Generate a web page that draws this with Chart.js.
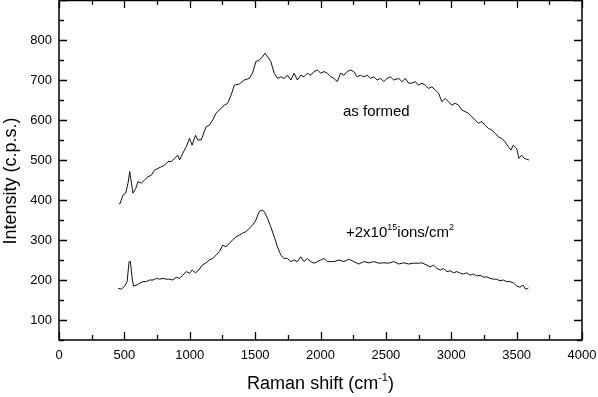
<!DOCTYPE html>
<html>
<head>
<meta charset="utf-8">
<title>Raman spectra</title>
<script src="https://cdn.jsdelivr.net/npm/chart.js@4.4.1/dist/chart.umd.min.js"></script>
<style>
  body { margin: 0; background: #fff; }
  #chart { display: block; }
</style>
</head>
<body>
<canvas id="chart" width="598" height="397"></canvas>
<script>
// as formed
const asFormedShift = [457, 465, 490, 510, 528, 541, 554, 566, 587, 604, 630, 655, 680, 706, 731, 757, 782, 808, 833, 859,
    884, 909, 922, 947, 973, 998, 1018, 1044, 1062, 1087, 1125, 1150, 1176, 1201, 1239, 1265, 1290, 1316, 1341, 1379,
    1417, 1455, 1480, 1506, 1531, 1557, 1575, 1595, 1620, 1646, 1671, 1697, 1722, 1747, 1773, 1798, 1823, 1849, 1874, 1899,
    1925, 1950, 1976, 2002, 2027, 2052, 2078, 2103, 2128, 2154, 2179, 2204, 2230, 2255, 2280, 2306, 2331, 2357, 2383, 2408,
    2433, 2459, 2484, 2509, 2535, 2560, 2598, 2623, 2649, 2674, 2699, 2725, 2750, 2776, 2801, 2827, 2852, 2878, 2903, 2928,
    2954, 2979, 3004, 3030, 3055, 3081, 3106, 3131, 3157, 3183, 3208, 3233, 3259, 3284, 3310, 3335, 3360, 3385, 3411, 3436,
    3457, 3474, 3500, 3518, 3538, 3558, 3576, 3595];
const asFormedIntensity = [392, 390, 412, 417, 442, 471, 442, 417, 429, 446, 442, 450, 458, 462, 475, 479, 483, 487, 496, 496,
    504, 512, 500, 517, 533, 554, 537, 562, 550, 550, 583, 587, 600, 617, 629, 637, 642, 662, 687, 690,
    700, 704, 717, 746, 750, 758, 767, 758, 746, 717, 704, 708, 704, 712, 700, 717, 700, 712, 708, 717,
    712, 721, 725, 717, 721, 717, 708, 704, 696, 717, 712, 721, 725, 721, 708, 712, 708, 712, 704, 708,
    700, 704, 696, 704, 708, 700, 704, 696, 704, 692, 692, 696, 687, 692, 687, 679, 683, 675, 667, 646,
    654, 646, 637, 642, 637, 625, 621, 617, 608, 600, 592, 596, 587, 579, 575, 567, 558, 554, 546, 533,
    525, 537, 529, 504, 512, 504, 502, 500];

// +2x10^15 ions/cm^2
const implantedShift = [452, 477, 503, 521, 536, 546, 561, 571, 592, 617, 643, 668, 693, 719, 744, 770, 795, 821, 846, 871,
    897, 922, 947, 973, 998, 1018, 1044, 1069, 1095, 1125, 1150, 1176, 1201, 1227, 1252, 1278, 1303, 1328, 1354, 1379,
    1404, 1430, 1455, 1480, 1506, 1531, 1552, 1570, 1595, 1620, 1646, 1671, 1697, 1722, 1747, 1773, 1798, 1823, 1849, 1874,
    1899, 1925, 1950, 1976, 2002, 2027, 2052, 2078, 2103, 2141, 2179, 2217, 2255, 2293, 2331, 2370, 2408, 2446, 2484, 2522,
    2560, 2598, 2636, 2674, 2712, 2750, 2776, 2814, 2839, 2865, 2890, 2916, 2941, 2966, 2992, 3017, 3043, 3068, 3093, 3119,
    3144, 3170, 3195, 3221, 3246, 3271, 3297, 3322, 3347, 3373, 3398, 3423, 3449, 3474, 3500, 3525, 3550, 3568, 3590];
const implantedIntensity = [179, 177, 185, 196, 246, 246, 200, 185, 187, 192, 196, 196, 200, 200, 204, 202, 204, 202, 202, 200,
    207, 204, 212, 221, 217, 225, 218, 225, 237, 243, 250, 254, 262, 271, 287, 283, 292, 300, 308, 312,
    317, 321, 329, 337, 350, 371, 375, 371, 354, 333, 308, 283, 262, 254, 254, 246, 250, 246, 258, 246,
    254, 246, 242, 246, 250, 254, 246, 246, 246, 250, 246, 252, 246, 240, 246, 243, 246, 242, 243, 242,
    246, 240, 243, 240, 242, 242, 243, 237, 233, 237, 229, 225, 229, 221, 223, 218, 221, 217, 215, 218,
    212, 215, 210, 212, 207, 208, 204, 202, 202, 198, 200, 196, 196, 193, 185, 182, 187, 177, 180];

const xTickValues = [0, 500, 1000, 1500, 2000, 2500, 3000, 3500, 4000];
const yTickValues = [100, 200, 300, 400, 500, 600, 700, 800];

const FONT = '"Liberation Sans", Arial, Helvetica, sans-serif';

function toPoints(xs, ys) {
    return xs.map((x, i) => ({ x: x, y: ys[i] }));
}

// draw text with superscript parts: parts = [[text, isSup], ...]
function drawRich(ctx, parts, x, y, size, align) {
    const supSize = Math.round(size * 0.62);
    let total = 0;
    parts.forEach(p => {
        ctx.font = (p[1] ? supSize : size) + 'px ' + FONT;
        total += ctx.measureText(p[0]).width;
    });
    let cx = align === 'center' ? x - total / 2 : x;
    ctx.textAlign = 'left';
    ctx.textBaseline = 'alphabetic';
    parts.forEach(p => {
        ctx.font = (p[1] ? supSize : size) + 'px ' + FONT;
        ctx.fillText(p[0], cx, p[1] ? y - size * 0.45 : y);
        cx += ctx.measureText(p[0]).width;
    });
}

const framePlugin = {
    id: 'frame',
    beforeDraw(chart) {
        const ctx = chart.ctx;
        ctx.save();
        ctx.fillStyle = '#fff';
        ctx.fillRect(0, 0, chart.width, chart.height);
        ctx.restore();
    },
    afterDraw(chart) {
        const ctx = chart.ctx;
        const a = chart.chartArea;
        const xs = chart.scales.x;
        const ys = chart.scales.y;
        ctx.save();
        ctx.strokeStyle = '#000';
        ctx.lineWidth = 1.5;
        ctx.strokeRect(a.left, a.top + 0.5, a.right - a.left, a.bottom - a.top - 0.5);

        // inward ticks on all four sides
        ctx.lineWidth = 1.3;
        ctx.beginPath();
        for (let v = xs.min; v <= xs.max; v += 250) {
            const px = Math.round(xs.getPixelForValue(v)) + 0.5;
            const len = v % 500 === 0 ? 8 : 5;
            ctx.moveTo(px, a.bottom); ctx.lineTo(px, a.bottom - len);
            ctx.moveTo(px, a.top); ctx.lineTo(px, a.top + len);
        }
        for (let v = ys.min; v <= ys.max; v += 50) {
            const py = Math.round(ys.getPixelForValue(v)) + 0.5;
            const len = v % 100 === 0 ? 8 : 5;
            ctx.moveTo(a.left, py); ctx.lineTo(a.left + len, py);
            ctx.moveTo(a.right, py); ctx.lineTo(a.right - len, py);
        }
        ctx.stroke();

        ctx.fillStyle = '#000';
        // axis titles
        drawRich(ctx, [['Raman shift (cm', false], ['-1', true], [')', false]], (a.left + a.right) / 2, 389, 18, 'center');
        ctx.save();
        ctx.translate(16, 181);
        ctx.rotate(-Math.PI / 2);
        drawRich(ctx, [['Intensity (c.p.s.)', false]], 0, 0, 18, 'center');
        ctx.restore();

        // curve labels
        drawRich(ctx, [['as formed', false]], 343, 116, 15, 'left');
        drawRich(ctx, [['+2x10', false], ['15', true], ['ions/cm', false], ['2', true]], 346, 237, 15, 'left');
        ctx.restore();
    }
};

const ctx = document.getElementById('chart').getContext('2d');
const chart = new Chart(ctx, {
    type: 'line',
    data: {
        datasets: [{
            label: 'as formed',
            data: toPoints(asFormedShift, asFormedIntensity),
            borderColor: '#111',
            borderWidth: 1,
            pointRadius: 0,
            tension: 0,
            fill: false
        }, {
            label: '+2x10^15 ions/cm^2',
            data: toPoints(implantedShift, implantedIntensity),
            borderColor: '#111',
            borderWidth: 1,
            pointRadius: 0,
            tension: 0,
            fill: false
        }]
    },
    options: {
        responsive: false,
        animation: false,
        layout: { padding: { top: 0, right: 16, left: 0, bottom: 0 } },
        scales: {
            x: {
                type: 'linear',
                min: 0,
                max: 4000,
                grid: { display: false, drawTicks: false },
                border: { display: false },
                afterBuildTicks: scale => { scale.ticks = xTickValues.map(v => ({ value: v })); },
                afterFit: scale => {
                    scale.height = 57;
                    scale.paddingLeft = 0;
                    scale.paddingRight = 0;
                },
                ticks: {
                    padding: 8,
                    maxRotation: 0,
                    color: '#000',
                    font: { family: FONT, size: 13 },
                    callback: v => String(v)
                }
            },
            y: {
                type: 'linear',
                min: 50,
                max: 900,
                grid: { display: false, drawTicks: false },
                border: { display: false },
                afterBuildTicks: scale => { scale.ticks = yTickValues.map(v => ({ value: v })); },
                afterFit: scale => {
                    scale.width = 59;
                    scale.paddingTop = 0;
                    scale.paddingBottom = 0;
                },
                ticks: {
                    padding: 7,
                    color: '#000',
                    font: { family: FONT, size: 13 },
                    callback: v => String(v)
                }
            }
        },
        plugins: {
            legend: { display: false },
            tooltip: { enabled: false }
        }
    },
    plugins: [framePlugin]
});
</script>
</body>
</html>
